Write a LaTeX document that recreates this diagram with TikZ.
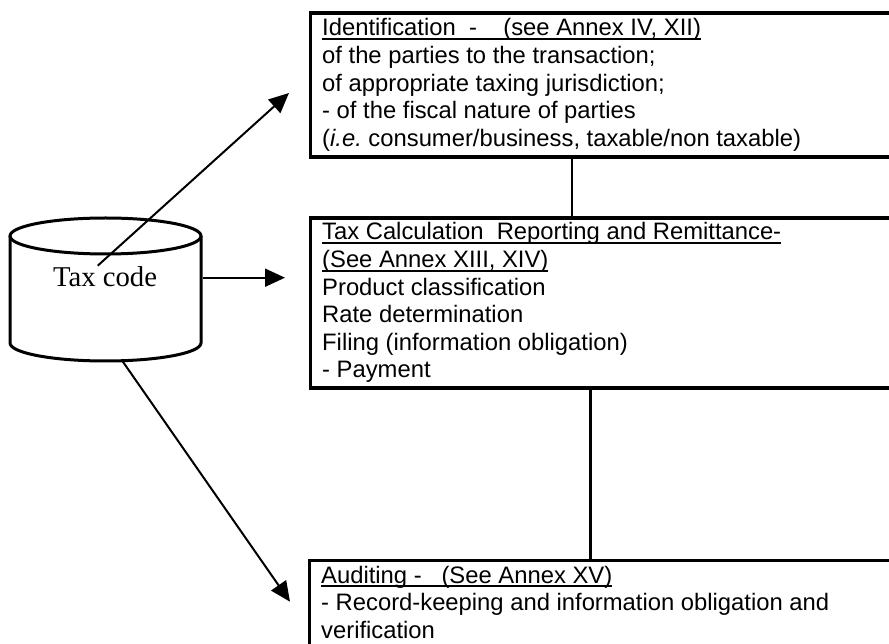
\documentclass[tikz,border=0pt]{standalone}
\usepackage{fontspec}
\setmainfont{Liberation Sans}
\newfontfamily\timesface{Liberation Serif}
\usetikzlibrary{arrows.meta,calc}
\frenchspacing
% underline that sits at a fixed depth, crossing descenders
\newcommand\ulinetext[1]{\setbox0\hbox{#1}\rlap{\rule[-4.3pt]{\wd0}{2pt}}\box0}
\newcommand\boxfont{\fontsize{23.8pt}{27.6pt}\selectfont}
\begin{document}
\begin{tikzpicture}[x=1pt,y=1pt,
  stagebox/.style={draw, line width=3.3pt, rectangle, inner sep=0pt, anchor=north west},
  stagetext/.style={anchor=base west, inner sep=0pt, font=\boxfont},
  link/.style={line width=2.4pt},
  feed/.style={line width=2pt, -{Triangle[length=20pt,width=18pt]}},
  drum/.style={line width=3pt}]
\useasboundingbox (0,0) rectangle (889,643);
\fill[white] (0,0) rectangle (889,643);
\clip (0,0) rectangle (889,643);

% database cylinder
\draw[drum] (10,407) -- (10,300) arc[start angle=180,end angle=360,x radius=95.5,y radius=18] -- (201,407);
\draw[drum] (105.5,407) ellipse [x radius=95.5, y radius=18];
\node[font=\timesface\fontsize{28.7pt}{34pt}\selectfont, anchor=base, inner sep=0pt] (taxcode) at (105,356) {Tax code};

% stage boxes (open to the right)
\node[stagebox, minimum width=620pt, minimum height=144pt] (ident) at (309,631.5) {};
\node[stagebox, minimum width=620pt, minimum height=170pt] (calc) at (309,426.5) {};
\node[stagebox, minimum width=620pt, minimum height=110pt] (audit) at (308,84) {};

\node[stagetext] (identtext) at ($(ident.north west)+(13,-24.5)$) {%
\begin{tabular}[t]{@{}l@{}}
\ulinetext{Identification~~-~~~~(see Annex IV, XII)}\\
of the parties to the transaction;\\
of appropriate taxing jurisdiction;\\
- of the fiscal nature of parties\\
(\textit{i.e.} consumer/business, taxable/non taxable)
\end{tabular}};

\node[stagetext] (calctext) at ($(calc.north west)+(13,-23.5)$) {%
\begin{tabular}[t]{@{}l@{}}
\ulinetext{Tax Calculation~~Reporting and Remittance-}\\
\ulinetext{(See Annex XIII, XIV)}\\
Product classification\\
Rate determination\\
Filing (information obligation)\\
- Payment
\end{tabular}};

\node[stagetext] (audittext) at ($(audit.north west)+(13,-24)$) {%
\begin{tabular}[t]{@{}l@{}}
\ulinetext{Auditing -~~~(See Annex XV)}\\
- Record-keeping and information obligation and\\
verification
\end{tabular}};

% links between stages
\draw[link] ($(ident.south west)+(263,0)$) -- ($(calc.north west)+(263,0)$);
\draw[link] ($(calc.south west)+(281.5,0)$) -- ($(audit.north west)+(282.5,0)$);

% feeds from the tax code
\coordinate (srcup) at (97.7,377.3);
\coordinate (srcside) at (202.5,365.3);
\coordinate (srcdown) at (121.7,283);
\coordinate (tipident) at (289,550);
\coordinate (tipcalc) at (285,365.3);
\coordinate (tipaudit) at (290,41.3);
\draw[feed] (srcup) -- (tipident);
\draw[feed] (srcside) -- (tipcalc);
\draw[feed] (srcdown) -- (tipaudit);
\end{tikzpicture}
\end{document}
